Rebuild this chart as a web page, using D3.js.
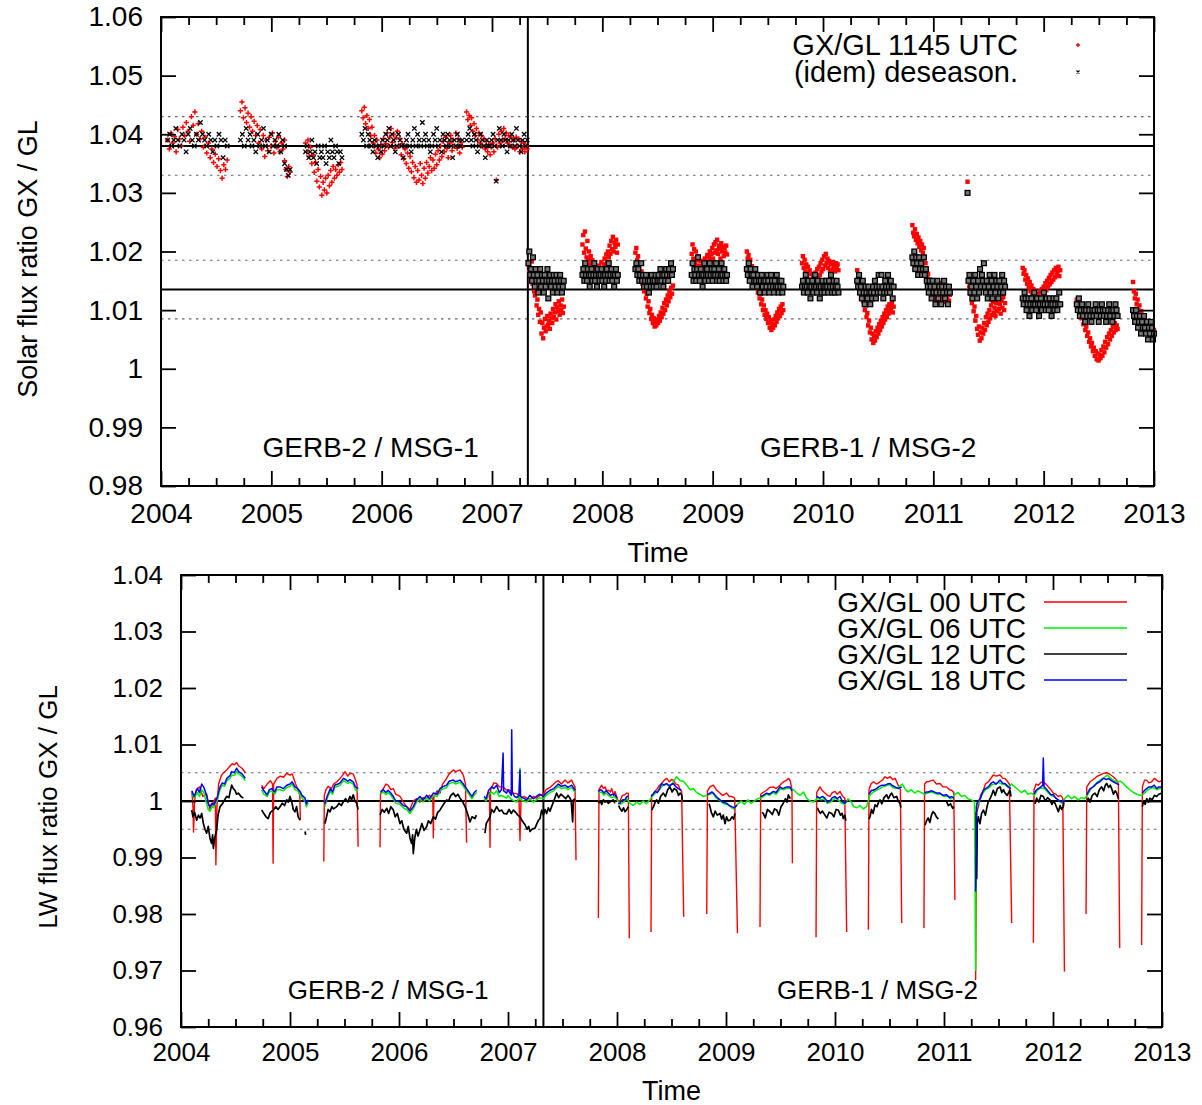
<!DOCTYPE html>
<html>
<head>
<meta charset="utf-8">
<script src="https://cdn.jsdelivr.net/npm/d3@7"></script>
<style>
  body { margin: 0; background: #fff; }
  svg { font-family: "Liberation Sans", Arial, Helvetica, sans-serif; }
</style>
</head>
<body>
<div id="chart"></div>
<script>
// ---- shared ----
const years = [2004, 2005, 2006, 2007, 2008, 2009, 2010, 2011, 2012, 2013];
const switchDate = 2007.325; // GERB-2/MSG-1 -> GERB-1/MSG-2

// ---- top panel: solar flux ratio ----
const solarTicks = [0.98, 0.99, 1, 1.01, 1.02, 1.03, 1.04, 1.05, 1.06];
const solarMeans = [1.038, 1.0135];
const solarBands = [1.043, 1.033, 1.0185, 1.0085];

// observation periods (start, end) in decimal years
const solarSpans = [
  [2004.06, 2004.60], [2004.72, 2005.12], [2005.12, 2005.17], [2005.31, 2005.64],
  [2005.82, 2006.73], [2006.77, 2007.32],
  [2007.33, 2007.65], [2007.82, 2008.14], [2008.30, 2008.64], [2008.81, 2009.13],
  [2009.31, 2009.64], [2009.81, 2010.14], [2010.31, 2010.64], [2010.81, 2011.15],
  [2011.31, 2011.65], [2011.81, 2012.15], [2012.30, 2012.67], [2012.81, 2013.0]
];

// GX/GL 1145 UTC
const solarRaw = [
  [1.0390,1.0375,1.0402,1.0385,1.0396,1.0370,1.0408,1.0392,1.0380,1.0412,1.0398,1.0420,1.0405,1.0388,1.0430,1.0415,1.0438,1.0400,1.0418,1.0392,1.0405,1.0378,1.0395,1.0368,1.0385,1.0360,1.0375,1.0352,1.0366,1.0345,1.0358,1.0338,1.0325,1.0348,1.0340,1.0356],
  [1.0440,1.0455,1.0428,1.0445,1.0420,1.0436,1.0412,1.0430,1.0405,1.0422,1.0398,1.0415,1.0385,1.0408,1.0375,1.0398,1.0362,1.0390,1.0372,1.0395,1.0380,1.0402,1.0368,1.0388,1.0378,1.0395,1.0370,1.0385,1.0375,1.0390],
  [1.0355,1.0340,1.0328,1.0345,1.0335],
  [1.0385,1.0370,1.0390,1.0362,1.0378,1.0350,1.0365,1.0335,1.0352,1.0320,1.0340,1.0310,1.0328,1.0296,1.0318,1.0305,1.0325,1.0300,1.0330,1.0312,1.0338,1.0318,1.0345,1.0325,1.0340,1.0330,1.0348,1.0335,1.0352,1.0340],
  [1.0440,1.0428,1.0446,1.0418,1.0432,1.0410,1.0425,1.0398,1.0412,1.0385,
   1.0398,1.0368,1.0390,1.0375,1.0360,1.0382,1.0366,1.0392,1.0372,1.0384,
   1.0402,1.0378,1.0395,1.0410,1.0386,1.0400,1.0376,1.0394,1.0405,1.0380,
   1.0392,1.0365,1.0384,1.0358,1.0375,1.0350,1.0368,1.0342,1.0362,1.0336,
   1.0352,1.0326,1.0345,1.0318,1.0338,1.0322,1.0350,1.0330,1.0316,1.0342,
   1.0325,1.0352,1.0334,1.0345,1.0360,1.0338,1.0356,1.0342,1.0366,1.0348,
   1.0372,1.0356,1.0380,1.0362,1.0388,1.0370,1.0395,1.0376,1.0360,1.0385,
   1.0398,1.0372,1.0390,1.0380,1.0402,1.0376,1.0392,1.0368,1.0386,1.0378],
  [1.0438,1.0425,1.0432,1.0415,1.0428,1.0405,1.0418,1.0398,1.0410,1.0390,
   1.0402,1.0385,1.0398,1.0380,1.0392,1.0375,1.0388,1.0370,1.0382,1.0365,
   1.0378,1.0385,1.0370,1.0392,1.0322,1.0378,1.0400,1.0385,1.0405,1.0390,
   1.0410,1.0392,1.0402,1.0385,1.0398,1.0380,1.0395,1.0378,1.0390,1.0375,
   1.0395,1.0380,1.0392,1.0370,1.0388,1.0375,1.0385,1.0370,1.0380,1.0375],
  [1.0178,1.0165,1.0172,1.0150,1.0183,1.0145,1.0158,1.0132,1.0125,1.0138,1.0108,1.0118,1.0092,1.0102,1.0080,1.0096,
   1.0060,1.0078,1.0052,1.0070,1.0085,1.0064,1.0072,1.0090,1.0075,1.0082,1.0068,1.0094,1.0086,1.0078,1.0102,1.0088,
   1.0096,1.0110,1.0084,1.0105,1.0098,1.0115,1.0092,1.0108,1.0100,1.0118,1.0095,1.0106],
  [1.0212,1.0228,1.0198,1.0234,1.0205,1.0190,1.0218,1.0186,1.0200,1.0178,1.0192,1.0172,1.0185,1.0165,1.0180,1.0158,
   1.0172,1.0162,1.0150,1.0168,1.0176,1.0158,1.0166,1.0182,1.0170,1.0160,1.0178,1.0188,1.0172,1.0195,1.0182,1.0200,
   1.0190,1.0210,1.0196,1.0218,1.0204,1.0225,1.0200,1.0215,1.0208,1.0220,1.0198,1.0212],
  [1.0198,1.0206,1.0185,1.0192,1.0170,1.0180,1.0158,1.0166,1.0145,1.0152,1.0132,1.0140,1.0120,1.0128,1.0106,1.0115,
   1.0095,1.0102,1.0085,1.0092,1.0078,1.0086,1.0072,1.0080,1.0074,1.0084,1.0078,1.0090,1.0082,1.0096,1.0088,1.0104,
   1.0094,1.0112,1.0100,1.0118,1.0108,1.0125,1.0115,1.0132,1.0122,1.0138,1.0128,1.0142],
  [1.0196,1.0212,1.0188,1.0204,1.0178,1.0200,1.0185,1.0170,1.0192,1.0176,1.0168,1.0184,1.0172,1.0162,1.0180,1.0174,
   1.0188,1.0170,1.0182,1.0194,1.0178,1.0190,1.0200,1.0184,1.0196,1.0206,1.0188,1.0212,1.0198,1.0216,1.0202,1.0220,
   1.0196,1.0210,1.0204,1.0188,1.0214,1.0200,1.0208,1.0192,1.0205,1.0198,1.0210,1.0195],
  [1.0200,1.0188,1.0194,1.0178,1.0186,1.0168,1.0175,1.0160,1.0168,1.0150,1.0158,1.0140,1.0148,1.0130,1.0138,1.0120,
   1.0128,1.0110,1.0118,1.0100,1.0108,1.0092,1.0100,1.0085,1.0094,1.0078,1.0088,1.0070,1.0082,1.0066,1.0076,1.0070,
   1.0084,1.0074,1.0090,1.0080,1.0096,1.0086,1.0102,1.0090,1.0106,1.0095,1.0110,1.0100],
  [1.0180,1.0192,1.0172,1.0186,1.0166,1.0178,1.0160,1.0174,1.0152,1.0168,1.0148,1.0162,1.0145,1.0158,1.0150,1.0142,
   1.0164,1.0152,1.0170,1.0156,1.0174,1.0160,1.0180,1.0166,1.0186,1.0170,1.0192,1.0176,1.0196,1.0180,1.0188,1.0172,
   1.0184,1.0168,1.0178,1.0164,1.0182,1.0170,1.0176,1.0166,1.0180,1.0172,1.0178,1.0168],
  [1.0168,1.0155,1.0160,1.0142,1.0150,1.0128,1.0136,1.0115,1.0122,1.0100,1.0108,1.0088,1.0095,1.0074,1.0082,1.0062,
   1.0070,1.0050,1.0060,1.0044,1.0056,1.0048,1.0064,1.0054,1.0070,1.0060,1.0076,1.0066,1.0082,1.0072,1.0088,1.0078,
   1.0094,1.0084,1.0100,1.0088,1.0106,1.0094,1.0110,1.0098,1.0104,1.0112,1.0096,1.0106],
  [1.0245,1.0232,1.0226,1.0238,1.0220,1.0230,1.0214,1.0224,1.0208,1.0218,1.0202,1.0212,1.0198,1.0206,1.0190,1.0180,
   1.0168,1.0156,1.0162,1.0146,1.0152,1.0136,1.0145,1.0128,1.0140,1.0122,1.0134,1.0116,1.0130,1.0112,1.0138,1.0120,
   1.0146,1.0124,1.0134,1.0114,1.0128,1.0140,1.0118,1.0132,1.0122,1.0136,1.0116,1.0126],
  [1.0319,1.0152,1.0140,1.0128,1.0135,1.0112,1.0120,1.0098,1.0106,1.0082,1.0090,1.0068,1.0058,1.0072,1.0048,1.0062,
   1.0052,1.0070,1.0060,1.0078,1.0066,1.0088,1.0074,1.0094,1.0080,1.0100,1.0086,1.0108,1.0092,1.0114,1.0096,1.0104,
   1.0090,1.0112,1.0098,1.0120,1.0102,1.0110,1.0094,1.0116,1.0104,1.0122,1.0100,1.0112],
  [1.0172,1.0162,1.0168,1.0152,1.0160,1.0145,1.0154,1.0138,1.0148,1.0132,1.0142,1.0126,1.0136,1.0120,1.0132,1.0118,
   1.0128,1.0115,1.0126,1.0120,1.0132,1.0122,1.0136,1.0126,1.0140,1.0130,1.0146,1.0134,1.0150,1.0140,1.0155,1.0144,
   1.0160,1.0148,1.0164,1.0152,1.0168,1.0156,1.0172,1.0160,1.0166,1.0174,1.0158,1.0168],
  [1.0118,1.0106,1.0112,1.0096,1.0102,1.0086,1.0092,1.0076,1.0082,1.0066,1.0072,1.0056,1.0062,1.0046,1.0052,1.0038,
   1.0044,1.0030,1.0036,1.0022,1.0030,1.0016,1.0026,1.0014,1.0024,1.0018,1.0032,1.0022,1.0038,1.0028,1.0046,1.0036,
   1.0054,1.0042,1.0060,1.0050,1.0066,1.0056,1.0072,1.0062,1.0078,1.0066,1.0074,1.0068],
  [1.0148,1.0132,1.0120,1.0128,1.0110,1.0118,1.0100,1.0108,1.0092,1.0098,1.0084,1.0090,1.0076,1.0084,1.0068,1.0078,1.0062,1.0072,1.0058,1.0068,1.0055,1.0064,1.0058,1.0066]
];

// (idem) deseasonalised
const solarDes = [
  [1.039,1.040,1.038,1.039,1.041,1.039,1.038,1.040,1.039,1.037,1.040,1.041,1.039,1.038,1.040,1.039,1.042,1.040,1.039,1.038,1.040,1.039,1.037,1.039,1.038,1.040,1.039,1.036,1.039,1.038],
  [1.039,1.040,1.038,1.041,1.039,1.040,1.038,1.039,1.037,1.040,1.038,1.039,1.041,1.038,1.039,1.037,1.040,1.038,1.039,1.038,1.040,1.037,1.039,1.038],
  [1.035,1.034,1.033,1.034],
  [1.037,1.038,1.036,1.037,1.039,1.036,1.037,1.035,1.038,1.036,1.037,1.036,1.038,1.035,1.037,1.036,1.039,1.037,1.036,1.038,1.037,1.035,1.037,1.036],
  [1.040,1.039,1.041,1.038,1.040,1.039,1.038,1.037,1.039,1.038,1.036,1.038,1.037,1.039,1.038,1.040,1.039,1.041,1.038,1.040,1.039,1.037,1.038,1.040,1.039,1.038,1.036,1.038,1.039,1.040,1.038,1.037,1.039,1.041,1.038,1.040,1.039,1.038,1.042,1.039,1.040,1.038,1.039,1.037,1.038,1.040,1.039,1.041,1.038,1.039,1.037,1.040,1.039,1.038,1.040,1.039,1.038,1.036,1.039,1.038,1.040,1.039,1.038,1.039],
  [1.039,1.040,1.041,1.039,1.038,1.040,1.039,1.037,1.038,1.040,1.039,1.038,1.036,1.039,1.038,1.038,1.039,1.040,1.038,1.032,1.039,1.041,1.039,1.038,1.040,1.039,1.037,1.039,1.038,1.040,1.039,1.038,1.041,1.039,1.038,1.037,1.039,1.040,1.038,1.039],
  [1.018,1.020,1.016,1.017,1.015,1.019,1.016,1.014,1.017,1.015,1.016,1.013,1.015,1.017,1.014,1.016,1.015,1.013,1.016,1.014,1.015,1.017,1.012,1.015,1.016,1.014,1.015,1.013,1.016,1.015,1.014,1.016,1.013,1.015,1.014,1.016,1.015,1.013,1.014,1.015],
  [1.016,1.017,1.015,1.018,1.016,1.015,1.017,1.016,1.014,1.016,1.017,1.015,1.016,1.018,1.015,1.016,1.014,1.017,1.016,1.015,1.016,1.017,1.015,1.016,1.014,1.016,1.015,1.017,1.016,1.018,1.015,1.016,1.017,1.015,1.016,1.014,1.016,1.017,1.015,1.016],
  [1.017,1.018,1.016,1.017,1.015,1.016,1.018,1.015,1.016,1.014,1.015,1.016,1.014,1.015,1.013,1.015,1.014,1.016,1.015,1.014,1.015,1.016,1.014,1.015,1.016,1.015,1.017,1.015,1.016,1.014,1.016,1.015,1.017,1.016,1.015,1.017,1.016,1.018,1.016,1.017],
  [1.016,1.018,1.015,1.017,1.016,1.015,1.017,1.019,1.016,1.015,1.017,1.016,1.014,1.016,1.018,1.015,1.016,1.017,1.016,1.015,1.018,1.016,1.017,1.015,1.016,1.017,1.016,1.018,1.015,1.016,1.017,1.015,1.016,1.018,1.016,1.015,1.017,1.016,1.015,1.016],
  [1.017,1.016,1.018,1.015,1.017,1.016,1.014,1.016,1.015,1.017,1.015,1.014,1.016,1.015,1.013,1.015,1.016,1.014,1.015,1.013,1.015,1.014,1.016,1.015,1.013,1.014,1.016,1.015,1.014,1.013,1.015,1.014,1.016,1.014,1.013,1.015,1.014,1.015,1.013,1.014],
  [1.014,1.015,1.013,1.014,1.016,1.014,1.013,1.015,1.014,1.012,1.014,1.015,1.013,1.014,1.016,1.014,1.013,1.015,1.014,1.012,1.014,1.013,1.015,1.014,1.013,1.014,1.015,1.014,1.013,1.015,1.014,1.016,1.013,1.014,1.015,1.013,1.014,1.015,1.014,1.013],
  [1.015,1.014,1.016,1.013,1.014,1.012,1.015,1.013,1.011,1.014,1.013,1.012,1.014,1.013,1.011,1.013,1.012,1.014,1.013,1.015,1.012,1.014,1.013,1.016,1.014,1.013,1.016,1.014,1.012,1.013,1.015,1.014,1.013,1.016,1.014,1.013,1.015,1.014,1.012,1.014],
  [1.019,1.018,1.020,1.017,1.019,1.018,1.016,1.019,1.017,1.018,1.016,1.017,1.019,1.016,1.017,1.015,1.014,1.013,1.015,1.014,1.012,1.015,1.013,1.014,1.011,1.013,1.015,1.012,1.014,1.013,1.011,1.014,1.013,1.015,1.012,1.014,1.013,1.011,1.014,1.013],
  [1.030,1.015,1.016,1.013,1.014,1.012,1.015,1.013,1.016,1.014,1.012,1.015,1.013,1.017,1.014,1.016,1.015,1.018,1.014,1.013,1.015,1.012,1.014,1.016,1.013,1.015,1.012,1.014,1.016,1.013,1.015,1.014,1.012,1.015,1.013,1.014,1.016,1.013,1.015,1.014],
  [1.012,1.011,1.013,1.012,1.010,1.011,1.012,1.009,1.011,1.012,1.010,1.011,1.013,1.011,1.010,1.012,1.011,1.009,1.011,1.012,1.010,1.011,1.013,1.011,1.010,1.012,1.011,1.010,1.012,1.011,1.009,1.011,1.012,1.010,1.011,1.012,1.010,1.011,1.013,1.011],
  [1.011,1.010,1.012,1.009,1.010,1.011,1.009,1.010,1.008,1.010,1.009,1.011,1.010,1.009,1.008,1.010,1.009,1.010,1.011,1.009,1.010,1.008,1.010,1.009,1.011,1.010,1.009,1.010,1.008,1.009,1.010,1.011,1.009,1.010,1.008,1.010,1.009,1.011,1.010,1.009],
  [1.010,1.009,1.008,1.010,1.009,1.007,1.008,1.009,1.006,1.008,1.007,1.009,1.007,1.006,1.008,1.005,1.007,1.006,1.008,1.007,1.005,1.006]
];

// ---- bottom panel: LW flux ratio ----
const lwTicks = [0.96, 0.97, 0.98, 0.99, 1, 1.01, 1.02, 1.03, 1.04];
const lwMeans = [1.0];
const lwBands = [1.005, 0.995];

// GX/GL 00 UTC
const lw00 = [
  [[2004.10,1.0017],[2004.11,0.9990],[2004.115,0.9945],[2004.125,1.0000],[2004.14,1.0020],[2004.17,1.0025],[2004.20,1.0008],[2004.235,1.0012],[2004.265,0.9985],[2004.29,0.9995],[2004.315,1.0005],[2004.32,0.9887],[2004.33,0.9990],[2004.345,1.0030],[2004.37,1.0045],[2004.39,1.0050],[2004.42,1.0055],[2004.45,1.0062],[2004.47,1.0066],[2004.49,1.0064],[2004.51,1.0068],[2004.53,1.0062],[2004.56,1.0058],[2004.59,1.0050]],
  [[2004.74,1.0028],[2004.76,1.0022],[2004.79,1.0030],[2004.82,1.0036],[2004.84,1.0030],[2004.845,0.9890],[2004.85,1.0030],[2004.88,1.0040],[2004.91,1.0044],[2004.94,1.0042],[2004.97,1.0049],[2005.0,1.0046],[2005.02,1.0048],[2005.05,1.0031],[2005.075,1.0019],[2005.09,1.0010],[2005.095,0.9966]],
  [[2005.31,0.9893],[2005.315,1.0010],[2005.33,1.0020],[2005.35,1.0026],[2005.38,1.0022],[2005.40,1.0030],[2005.43,1.0034],[2005.46,1.0040],[2005.48,1.0045],[2005.505,1.0052],[2005.53,1.0044],[2005.55,1.0049],[2005.58,1.0048],[2005.60,1.0038],[2005.615,1.0028],[2005.625,0.9919]],
  [[2005.826,0.9918],[2005.83,1.0013],[2005.856,1.0022],[2005.88,1.0030],[2005.90,1.0028],[2005.925,1.0020],[2005.948,1.0022],[2005.97,1.0012],[2006.01,1.0008],[2006.04,0.9998],[2006.07,0.9990],[2006.10,0.9985],[2006.13,1.0000],[2006.16,1.0004],[2006.19,0.9998],[2006.22,1.0006],[2006.25,1.0004],[2006.28,1.0010],[2006.31,1.0006],[2006.315,0.9935],[2006.32,1.0008],[2006.35,1.0018],[2006.376,1.0014],[2006.40,1.0030],[2006.437,1.0040],[2006.46,1.0048],[2006.498,1.0055],[2006.52,1.0052],[2006.56,1.0055],[2006.59,1.0046],[2006.61,1.0030],[2006.62,0.9926]],
  [[2006.79,1.0002],[2006.81,1.0010],[2006.83,1.0015],[2006.835,0.9918],[2006.84,1.0020],[2006.87,1.0032],[2006.896,1.0031],[2006.92,1.0025],[2006.957,1.0025],[2006.98,1.0020],[2007.018,1.0019],[2007.05,1.0014],[2007.08,1.0013],[2007.10,1.0010],[2007.11,0.9930],[2007.12,1.0006],[2007.15,1.0008],[2007.172,1.0005],[2007.20,1.0003],[2007.233,1.0008],[2007.26,1.0005],[2007.29,1.0010],[2007.324,1.0012],[2007.35,1.0020],[2007.385,1.0024],[2007.42,1.0030],[2007.44,1.0034],[2007.462,1.0036],[2007.49,1.0030],[2007.523,1.0037],[2007.55,1.0032],[2007.584,1.0037],[2007.60,1.0030],[2007.615,1.0025],[2007.624,0.9895]],
  [[2007.829,0.9793],[2007.835,1.0020],[2007.859,1.0028],[2007.875,1.0022],[2007.89,1.0025],[2007.905,1.0018],[2007.92,1.0019],[2007.94,1.0016],[2007.951,1.0022],[2007.97,1.0010],[2007.982,1.0017],[2007.99,1.0012],[2008.01,1.0000],[2008.027,1.0000],[2008.05,1.0010],[2008.073,1.0011],[2008.09,1.0014],[2008.104,1.0014],[2008.113,0.9757]],
  [[2008.312,0.9768],[2008.318,1.0010],[2008.33,1.0012],[2008.349,1.0017],[2008.37,1.0022],[2008.39,1.0028],[2008.41,1.0031],[2008.43,1.0036],[2008.456,1.0040],[2008.48,1.0034],[2008.50,1.0038],[2008.517,1.0037],[2008.54,1.0030],[2008.563,1.0028],[2008.58,1.0020],[2008.593,1.0017],[2008.612,0.9795]],
  [[2008.823,0.9800],[2008.83,1.0018],[2008.853,1.0025],[2008.884,1.0028],[2008.91,1.0020],[2008.945,1.0014],[2008.97,1.0010],[2009.006,1.0014],[2009.03,1.0008],[2009.052,1.0008],[2009.08,1.0005],[2009.105,0.9766]],
  [[2009.312,0.9777],[2009.318,1.0012],[2009.34,1.0015],[2009.373,1.0019],[2009.40,1.0024],[2009.434,1.0025],[2009.46,1.0022],[2009.495,1.0028],[2009.52,1.0033],[2009.557,1.0037],[2009.575,1.0040],[2009.59,1.0035],[2009.605,1.0020],[2009.609,0.9890]],
  [[2009.826,0.9759],[2009.832,1.0015],[2009.862,1.0025],[2009.885,1.0018],[2009.908,1.0014],[2009.93,1.0010],[2009.954,1.0008],[2009.975,1.0015],[2010.0,1.0017],[2010.02,1.0012],[2010.046,1.0017],[2010.07,1.0008],[2010.09,1.0005],[2010.107,0.9768]],
  [[2010.306,0.9772],[2010.312,1.0020],[2010.33,1.0030],[2010.352,1.0034],[2010.38,1.0030],[2010.413,1.0034],[2010.44,1.0038],[2010.459,1.0043],[2010.48,1.0040],[2010.505,1.0043],[2010.53,1.0038],[2010.551,1.0040],[2010.58,1.0028],[2010.60,1.0020],[2010.612,0.9784]],
  [[2010.816,0.9775],[2010.822,1.0030],[2010.84,1.0034],[2010.856,1.0034],[2010.88,1.0036],[2010.902,1.0037],[2010.93,1.0030],[2010.963,1.0031],[2010.99,1.0025],[2011.024,1.0025],[2011.05,1.0020],[2011.07,1.0019],[2011.09,1.0015],[2011.10,0.9825]],
  [[2011.29,0.9683],[2011.30,0.9980],[2011.315,0.9990],[2011.335,1.0010],[2011.361,1.0019],[2011.38,1.0030],[2011.407,1.0034],[2011.43,1.0040],[2011.452,1.0046],[2011.48,1.0044],[2011.514,1.0046],[2011.54,1.0040],[2011.56,1.0040],[2011.60,1.0030],[2011.621,0.9784]],
  [[2011.82,0.9749],[2011.826,1.0020],[2011.845,1.0030],[2011.865,1.0028],[2011.89,1.0033],[2011.911,1.0034],[2011.935,1.0030],[2011.957,1.0025],[2011.98,1.0020],[2012.003,1.0014],[2012.025,1.0012],[2012.049,1.0008],[2012.07,1.0010],[2012.09,1.0005],[2012.105,0.9698]],
  [[2012.303,0.9800],[2012.31,1.0025],[2012.34,1.0034],[2012.37,1.0038],[2012.40,1.0043],[2012.43,1.0046],[2012.462,1.0049],[2012.49,1.0050],[2012.508,1.0049],[2012.53,1.0046],[2012.553,1.0043],[2012.57,1.0040],[2012.584,1.0037],[2012.60,1.0030],[2012.612,0.9740]],
  [[2012.813,0.9745],[2012.82,1.0025],[2012.84,1.0037],[2012.859,1.0037],[2012.88,1.0032],[2012.905,1.0034],[2012.93,1.0040],[2012.951,1.0037],[2012.97,1.0034],[2013.0,1.0036]]
];

// GX/GL 06 UTC
const lw06 = [
  [[2004.10,1.0012],[2004.12,1.0005],[2004.15,1.0015],[2004.17,1.0008],[2004.19,1.0020],[2004.21,1.0015],[2004.235,0.9995],[2004.25,0.9985],[2004.266,0.9982],[2004.285,0.9990],[2004.30,0.9988],[2004.33,1.0000],[2004.358,1.0020],[2004.38,1.0028],[2004.40,1.0026],[2004.42,1.0036],[2004.45,1.0040],[2004.465,1.0046],[2004.49,1.0045],[2004.51,1.0052],[2004.53,1.0048],[2004.56,1.0044],[2004.59,1.0036]],
  [[2004.74,1.0020],[2004.76,1.0012],[2004.79,1.0008],[2004.81,1.0016],[2004.832,1.0018],[2004.86,1.0012],[2004.88,1.0020],[2004.908,1.0020],[2004.94,1.0018],[2004.97,1.0024],[2005.0,1.0026],[2005.02,1.0030],[2005.046,1.0020],[2005.07,1.0018],[2005.092,1.0012],[2005.11,1.0005],[2005.138,1.0000],[2005.15,0.9990],[2005.168,0.9997]],
  [[2005.32,0.9990],[2005.34,1.0004],[2005.37,1.0018],[2005.39,1.0012],[2005.41,1.0024],[2005.44,1.0026],[2005.46,1.0028],[2005.49,1.0036],[2005.51,1.0034],[2005.53,1.0031],[2005.55,1.0034],[2005.58,1.0030],[2005.60,1.0020],[2005.627,1.0018]],
  [[2005.83,1.0012],[2005.856,1.0016],[2005.88,1.0011],[2005.90,1.0015],[2005.925,1.0010],[2005.948,1.0004],[2005.97,0.9996],[2006.009,0.9994],[2006.04,0.9988],[2006.07,0.9985],[2006.10,0.9978],[2006.131,0.9986],[2006.16,0.9998],[2006.193,1.0004],[2006.22,0.9998],[2006.254,1.0006],[2006.28,1.0000],[2006.315,1.0010],[2006.35,1.0008],[2006.376,1.0018],[2006.40,1.0021],[2006.437,1.0024],[2006.46,1.0031],[2006.498,1.0033],[2006.52,1.0030],[2006.56,1.0033],[2006.59,1.0026],[2006.62,1.0018],[2006.651,1.0009],[2006.67,1.0004],[2006.69,1.0011],[2006.713,1.0015]],
  [[2006.78,1.0004],[2006.80,1.0000],[2006.82,1.0010],[2006.85,1.0016],[2006.87,1.0012],[2006.896,1.0018],[2006.92,1.0008],[2006.94,1.0010],[2006.96,1.0008],[2006.988,1.0005],[2007.00,1.0010],[2007.03,1.0003],[2007.06,1.0000],[2007.08,0.9998],[2007.10,1.0005],[2007.11,1.0058],[2007.115,1.0003],[2007.14,1.0000],[2007.172,0.9998],[2007.20,1.0004],[2007.233,0.9998],[2007.26,1.0002],[2007.29,1.0006],[2007.324,1.0004],[2007.35,1.0010],[2007.385,1.0015],[2007.42,1.0018],[2007.462,1.0026],[2007.49,1.0022],[2007.523,1.0024],[2007.55,1.0020],[2007.584,1.0024],[2007.615,1.0015]],
  [[2007.83,1.0014],[2007.86,1.0016],[2007.88,1.0010],[2007.90,1.0014],[2007.92,1.0010],[2007.95,1.0006],[2007.98,1.0008],[2008.0,1.0002],[2008.03,0.9994],[2008.06,0.9998],[2008.09,1.0004],[2008.12,0.9996],[2008.15,0.9992],[2008.18,0.9998],[2008.21,0.9994],[2008.24,1.0000],[2008.27,0.9995],[2008.30,1.0002],
   [2008.33,1.0010],[2008.36,1.0015],[2008.39,1.0020],[2008.42,1.0028],[2008.45,1.0030],[2008.48,1.0026],[2008.51,1.0032],[2008.547,1.0043],[2008.58,1.0036],[2008.61,1.0035],[2008.64,1.0028],[2008.67,1.0020],[2008.70,1.0022],[2008.73,1.0015],[2008.76,1.0012],[2008.79,1.0008],[2008.82,1.0010],
   [2008.85,1.0012],[2008.88,1.0014],[2008.91,1.0005],[2008.95,1.0000],[2008.98,0.9995],[2009.01,0.9994],[2009.04,0.9990],[2009.07,0.9986],[2009.11,0.9995],[2009.14,1.0000],[2009.17,0.9994],[2009.20,1.0002],[2009.23,0.9996],[2009.26,1.0000],[2009.29,1.0004],
   [2009.33,1.0006],[2009.37,1.0012],[2009.40,1.0010],[2009.43,1.0015],[2009.46,1.0012],[2009.50,1.0022],[2009.53,1.0020],[2009.56,1.0023],[2009.59,1.0022],[2009.62,1.0020],[2009.65,1.0014],[2009.68,1.0010],[2009.71,1.0016],[2009.74,1.0005],[2009.77,1.0000],[2009.80,0.9998],
   [2009.84,1.0005],[2009.87,1.0002],[2009.90,1.0004],[2009.93,0.9996],[2009.96,0.9998],[2010.0,1.0005],[2010.03,1.0002],[2010.06,0.9996],[2010.09,0.9994],[2010.12,1.0004],[2010.15,0.9998],[2010.17,0.9990],[2010.20,0.9988],[2010.23,0.9992],[2010.26,0.9986],[2010.29,0.9990],
   [2010.32,1.0010],[2010.35,1.0016],[2010.38,1.0019],[2010.41,1.0022],[2010.44,1.0025],[2010.47,1.0027],[2010.50,1.0029],[2010.53,1.0024],[2010.56,1.0022],[2010.59,1.0026],[2010.62,1.0030],[2010.64,1.0022],[2010.67,1.0016],[2010.70,1.0020],[2010.73,1.0014],[2010.76,1.0018],[2010.79,1.0015],[2010.82,1.0012],
   [2010.85,1.0014],[2010.88,1.0016],[2010.91,1.0014],[2010.94,1.0012],[2010.97,1.0012],[2011.0,1.0008],[2011.03,1.0009],[2011.06,1.0004],[2011.08,1.0006],[2011.10,1.0012],[2011.13,1.0015],[2011.16,1.0008],[2011.19,1.0010],[2011.22,1.0004],[2011.25,1.0002],[2011.28,0.9998],[2011.29,0.9700],[2011.295,0.9990],
   [2011.32,0.9998],[2011.35,1.0012],[2011.38,1.0020],[2011.41,1.0023],[2011.44,1.0029],[2011.47,1.0030],[2011.50,1.0033],[2011.53,1.0030],[2011.56,1.0029],[2011.59,1.0024],[2011.62,1.0030],[2011.65,1.0025],[2011.68,1.0020],[2011.71,1.0015],[2011.74,1.0019],[2011.77,1.0012],[2011.80,1.0014],
   [2011.83,1.0010],[2011.86,1.0020],[2011.89,1.0023],[2011.92,1.0022],[2011.95,1.0016],[2011.98,1.0010],[2012.01,1.0008],[2012.04,1.0003],[2012.07,0.9998],[2012.09,0.9996],[2012.11,1.0005],[2012.14,1.0010],[2012.17,1.0004],[2012.20,1.0008],[2012.23,1.0002],[2012.26,1.0006],[2012.29,1.0004],
   [2012.32,1.0012],[2012.35,1.0022],[2012.38,1.0028],[2012.41,1.0034],[2012.44,1.0038],[2012.47,1.0042],[2012.50,1.0046],[2012.53,1.0040],[2012.56,1.0036],[2012.59,1.0034],[2012.62,1.0035],[2012.65,1.0030],[2012.68,1.0024],[2012.71,1.0019],[2012.74,1.0015],[2012.77,1.0012],[2012.80,1.0010],
   [2012.83,1.0012],[2012.86,1.0018],[2012.89,1.0022],[2012.92,1.0024],[2012.95,1.0020],[2012.98,1.0022],[2013.0,1.0022]]
];

// GX/GL 12 UTC
const lw12 = [
  [[2004.098,0.9984],[2004.11,0.9972],[2004.125,0.9980],[2004.144,0.9966],[2004.16,0.9975],[2004.175,0.9970],[2004.19,0.9978],[2004.205,0.9960],[2004.22,0.9950],[2004.235,0.9943],[2004.25,0.9955],[2004.265,0.9935],[2004.281,0.9925],[2004.29,0.9940],[2004.297,0.9916],[2004.31,0.9935],[2004.327,0.9949],[2004.34,0.9975],[2004.358,0.9990],[2004.38,0.9995],[2004.40,1.0002],[2004.419,1.0008],[2004.44,1.0006],[2004.455,1.0020],[2004.465,1.0028],[2004.48,1.0022],[2004.495,1.0019],[2004.51,1.0012],[2004.526,1.0014],[2004.55,1.0008],[2004.572,1.0005]],
  [[2004.74,0.9984],[2004.76,0.9978],[2004.78,0.9972],[2004.80,0.9969],[2004.82,0.9980],[2004.847,0.9984],[2004.87,0.9990],[2004.89,0.9985],[2004.908,0.9990],[2004.93,0.9996],[2004.95,0.9992],[2004.97,1.0002],[2004.985,0.9998],[2005.0,1.0008],[2005.02,0.9995],[2005.03,0.9985],[2005.046,0.9981],[2005.06,0.9990],[2005.075,0.9972],[2005.092,0.9966]],
  [[2005.138,0.9946],[2005.144,0.9940]],
  [[2005.321,0.9960],[2005.335,0.9972],[2005.35,0.9985],[2005.367,0.9981],[2005.385,0.9990],[2005.40,0.9986],[2005.428,0.9990],[2005.45,0.9996],[2005.47,0.9992],[2005.49,0.9999],[2005.51,1.0004],[2005.53,0.9998],[2005.55,1.0008],[2005.565,1.0002],[2005.58,1.0011],[2005.595,1.0000],[2005.612,0.9996],[2005.625,0.9985]],
  [[2005.826,0.9975],[2005.845,0.9985],[2005.865,0.9980],[2005.887,0.9987],[2005.905,0.9978],[2005.925,0.9990],[2005.948,0.9984],[2005.965,0.9972],[2005.985,0.9978],[2006.009,0.9960],[2006.025,0.9965],[2006.045,0.9950],[2006.07,0.9943],[2006.085,0.9955],[2006.10,0.9935],[2006.116,0.9925],[2006.125,0.9940],[2006.131,0.9907],[2006.145,0.9935],[2006.16,0.9950],[2006.175,0.9938],[2006.193,0.9949],[2006.21,0.9960],[2006.23,0.9948],[2006.254,0.9955],[2006.27,0.9965],[2006.29,0.9960],[2006.315,0.9972],[2006.335,0.9968],[2006.355,0.9980],[2006.376,0.9984],[2006.395,0.9990],[2006.415,0.9996],[2006.437,1.0002],[2006.455,1.0000],[2006.475,1.0010],[2006.498,1.0014],[2006.52,1.0008],[2006.54,1.0012],[2006.56,1.0005],[2006.58,1.0000],[2006.606,0.9990],[2006.625,0.9980],[2006.651,0.9963],[2006.67,0.9972],[2006.697,0.9969],[2006.71,0.9975]],
  [[2006.789,0.9943],[2006.80,0.9960],[2006.815,0.9965],[2006.835,0.9972],[2006.85,0.9985],[2006.87,0.9980],[2006.896,0.9990],[2006.92,0.9982],[2006.942,0.9984],[2006.96,0.9978],[2006.988,0.9977],[2007.01,0.9985],[2007.03,0.9978],[2007.05,0.9984],[2007.07,0.9980],[2007.09,0.9975],[2007.11,0.9972],[2007.13,0.9965],[2007.156,0.9958],[2007.175,0.9950],[2007.19,0.9955],[2007.202,0.9946],[2007.22,0.9950],[2007.248,0.9952],[2007.265,0.9960],[2007.28,0.9966],[2007.294,0.9969],[2007.309,0.9984],[2007.325,0.9975],[2007.34,0.9985],[2007.355,0.9978],[2007.37,0.9988],[2007.385,0.9982],[2007.40,0.9990],[2007.42,1.0000],[2007.446,1.0014],[2007.465,1.0006],[2007.485,1.0012],[2007.508,1.0008],[2007.53,1.0004],[2007.55,1.0010],[2007.569,1.0005],[2007.58,1.0000],[2007.593,0.9963],[2007.60,1.0002],[2007.615,1.0004]],
  [[2007.829,0.9996],[2007.845,1.0000],[2007.86,0.9994],[2007.875,1.0002],[2007.89,0.9998],[2007.905,1.0000],[2007.92,0.9996],[2007.94,0.9999],[2007.966,1.0002],[2007.98,0.9996]],
  [[2008.015,0.9992],[2008.027,0.9987],[2008.045,0.9982],[2008.06,0.9988],[2008.073,0.9981],[2008.09,0.9985],[2008.104,0.9990]],
  [[2008.318,0.9984],[2008.335,0.9990],[2008.35,0.9998],[2008.364,1.0002],[2008.38,0.9996],[2008.40,1.0008],[2008.425,1.0014],[2008.445,1.0008],[2008.465,1.0020],[2008.486,1.0025],[2008.505,1.0016],[2008.525,1.0022],[2008.547,1.0019],[2008.565,1.0010],[2008.58,1.0014],[2008.593,1.0011],[2008.60,1.0002]],
  [[2008.845,0.9995],[2008.853,0.9990],[2008.865,0.9980],[2008.884,0.9972],[2008.90,0.9982],[2008.92,0.9975],[2008.945,0.9978],[2008.96,0.9968],[2008.975,0.9975],[2008.991,0.9960],[2009.005,0.9972],[2009.02,0.9965],[2009.037,0.9966],[2009.055,0.9972],[2009.07,0.9968],[2009.082,0.9978]],
  [[2009.33,0.9980],[2009.342,0.9978],[2009.36,0.9970],[2009.38,0.9985],[2009.404,0.9981],[2009.425,0.9976],[2009.445,0.9986],[2009.465,0.9984],[2009.485,0.9975],[2009.505,0.9990],[2009.526,0.9996],[2009.545,1.0004],[2009.56,0.9998],[2009.572,1.0011],[2009.59,1.0004]],
  [[2009.84,0.9988],[2009.847,0.9984],[2009.865,0.9978],[2009.885,0.9982],[2009.908,0.9975],[2009.925,0.9970],[2009.945,0.9980],[2009.97,0.9978],[2009.99,0.9972],[2010.01,0.9985],[2010.03,0.9984],[2010.05,0.9975],[2010.065,0.9978],[2010.076,0.9969],[2010.09,0.9975],[2010.10,0.9965]],
  [[2010.31,0.9968],[2010.321,0.9972],[2010.335,0.9985],[2010.35,0.9978],[2010.367,0.9993],[2010.385,0.9990],[2010.40,0.9998],[2010.413,1.0002],[2010.43,0.9995],[2010.45,1.0006],[2010.474,1.0011],[2010.49,1.0004],[2010.505,1.0010],[2010.52,1.0014],[2010.54,1.0006],[2010.566,1.0008],[2010.58,1.0000],[2010.596,0.9996],[2010.605,0.9988]],
  [[2010.826,0.9957],[2010.84,0.9965],[2010.855,0.9970],[2010.87,0.9962],[2010.885,0.9975],[2010.90,0.9981],[2010.915,0.9978],[2010.93,0.9972],[2010.948,0.9968]],
  [[2011.02,1.0000],[2011.04,0.9992],[2011.06,0.9995],[2011.08,0.9987],[2011.09,0.9990]],
  [[2011.295,0.9980],[2011.30,0.9863],[2011.305,0.9960],[2011.315,0.9972],[2011.33,0.9960],[2011.345,0.9978],[2011.361,0.9984],[2011.38,0.9975],[2011.395,0.9990],[2011.407,0.9999],[2011.425,1.0005],[2011.44,1.0012],[2011.452,1.0019],[2011.47,1.0010],[2011.49,1.0022],[2011.514,1.0025],[2011.53,1.0015],[2011.545,1.0020],[2011.56,1.0014],[2011.58,1.0010],[2011.605,1.0019],[2011.615,1.0008]],
  [[2011.835,0.9995],[2011.85,1.0005],[2011.87,0.9998],[2011.89,1.0010],[2011.911,1.0008],[2011.93,1.0000],[2011.95,1.0006],[2011.972,1.0002],[2011.99,0.9994],[2012.005,1.0000],[2012.018,0.9996],[2012.035,0.9988],[2012.049,0.9981],[2012.065,0.9992],[2012.08,0.9985],[2012.095,0.9990],[2012.10,0.9998]],
  [[2012.31,0.9998],[2012.324,1.0005],[2012.34,0.9998],[2012.36,1.0010],[2012.385,1.0014],[2012.405,1.0008],[2012.425,1.0020],[2012.446,1.0025],[2012.465,1.0018],[2012.48,1.0028],[2012.492,1.0031],[2012.51,1.0024],[2012.525,1.0028],[2012.538,1.0022],[2012.555,1.0012],[2012.57,1.0018],[2012.584,1.0014],[2012.60,1.0004]],
  [[2012.82,0.9990],[2012.829,0.9999],[2012.845,0.9994],[2012.86,1.0004],[2012.875,0.9998],[2012.89,1.0005],[2012.91,1.0002],[2012.93,1.0010],[2012.951,1.0008],[2012.97,1.0012],[2013.0,1.0014]]
];

// GX/GL 18 UTC
const lw18 = [
  [[2004.10,1.0018],[2004.12,1.0008],[2004.15,1.0022],[2004.17,1.0015],[2004.19,1.0030],[2004.21,1.0024],[2004.235,1.0010],[2004.25,0.9995],[2004.266,0.9990],[2004.285,0.9996],[2004.30,0.9993],[2004.33,1.0005],[2004.358,1.0025],[2004.38,1.0032],[2004.40,1.0030],[2004.42,1.0040],[2004.45,1.0045],[2004.465,1.0052],[2004.49,1.0050],[2004.51,1.0058],[2004.53,1.0052],[2004.56,1.0048],[2004.59,1.0040]],
  [[2004.74,1.0025],[2004.76,1.0018],[2004.79,1.0011],[2004.81,1.0020],[2004.832,1.0022],[2004.86,1.0016],[2004.88,1.0025],[2004.908,1.0025],[2004.94,1.0022],[2004.97,1.0028],[2005.0,1.0030],[2005.02,1.0034],[2005.046,1.0025],[2005.07,1.0022],[2005.092,1.0017],[2005.11,1.0010],[2005.138,1.0005],[2005.15,0.9995],[2005.168,1.0002]],
  [[2005.32,0.9995],[2005.34,1.0008],[2005.37,1.0022],[2005.39,1.0016],[2005.41,1.0028],[2005.44,1.0030],[2005.46,1.0032],[2005.49,1.0040],[2005.51,1.0038],[2005.53,1.0035],[2005.55,1.0038],[2005.58,1.0034],[2005.60,1.0025],[2005.627,1.0022]],
  [[2005.83,1.0016],[2005.856,1.0020],[2005.88,1.0015],[2005.90,1.0019],[2005.925,1.0014],[2005.948,1.0008],[2005.97,1.0000],[2006.009,0.9998],[2006.04,0.9992],[2006.07,0.9990],[2006.10,0.9982],[2006.131,0.9990],[2006.16,1.0002],[2006.193,1.0008],[2006.22,1.0002],[2006.254,1.0010],[2006.28,1.0004],[2006.315,1.0014],[2006.35,1.0012],[2006.376,1.0022],[2006.40,1.0025],[2006.437,1.0028],[2006.46,1.0035],[2006.498,1.0037],[2006.52,1.0034],[2006.56,1.0037],[2006.59,1.0030],[2006.62,1.0022],[2006.651,1.0013],[2006.67,1.0008],[2006.69,1.0015],[2006.713,1.0019]],
  [[2006.78,1.0008],[2006.80,1.0004],[2006.82,1.0018],[2006.85,1.0025],[2006.87,1.0022],[2006.896,1.0028],[2006.92,1.0015],[2006.94,1.0020],[2006.955,1.0085],[2006.96,1.0018],[2006.988,1.0014],[2007.00,1.0020],[2007.03,1.0010],[2007.034,1.0126],[2007.04,1.0015],[2007.06,1.0008],[2007.08,1.0006],[2007.10,1.0010],[2007.11,1.0055],[2007.115,1.0008],[2007.14,1.0005],[2007.172,1.0002],[2007.20,1.0010],[2007.233,1.0004],[2007.26,1.0008],[2007.29,1.0012],[2007.324,1.0008],[2007.35,1.0014],[2007.385,1.0019],[2007.42,1.0022],[2007.462,1.0030],[2007.49,1.0026],[2007.523,1.0028],[2007.55,1.0024],[2007.584,1.0028],[2007.615,1.0019]],
  [[2007.829,1.0017],[2007.845,1.0020],[2007.859,1.0019],[2007.88,1.0014],[2007.90,1.0018],[2007.92,1.0014],[2007.94,1.0010],[2007.96,1.0012],[2007.982,1.0011],[2008.0,1.0005]],
  [[2008.01,0.9995],[2008.027,0.9996],[2008.05,1.0002],[2008.073,1.0002],[2008.09,1.0008],[2008.104,1.0008]],
  [[2008.312,1.0008],[2008.33,1.0012],[2008.349,1.0017],[2008.37,1.0015],[2008.39,1.0022],[2008.41,1.0031],[2008.43,1.0028],[2008.456,1.0031],[2008.48,1.0027],[2008.517,1.0031],[2008.54,1.0025],[2008.563,1.0022],[2008.59,1.0019]],
  [[2008.83,1.0011],[2008.853,1.0014],[2008.87,1.0016],[2008.884,1.0014],[2008.91,1.0008],[2008.945,1.0002],[2008.97,0.9998],[2009.006,0.9996],[2009.03,0.9992],[2009.052,0.9990],[2009.08,0.9988],[2009.10,0.9993]],
  [[2009.32,1.0008],[2009.34,1.0010],[2009.373,1.0014],[2009.40,1.0012],[2009.434,1.0017],[2009.46,1.0015],[2009.495,1.0025],[2009.52,1.0022],[2009.557,1.0025],[2009.587,1.0025],[2009.605,1.0018]],
  [[2009.832,1.0008],[2009.862,1.0005],[2009.885,1.0008],[2009.908,1.0005],[2009.93,0.9998],[2009.954,1.0000],[2009.975,1.0006],[2010.0,1.0008],[2010.02,1.0004],[2010.046,1.0008],[2010.07,0.9998],[2010.09,0.9996],[2010.105,1.0000]],
  [[2010.312,1.0012],[2010.335,1.0019],[2010.352,1.0019],[2010.38,1.0022],[2010.40,1.0025],[2010.43,1.0028],[2010.459,1.0028],[2010.48,1.0030],[2010.505,1.0031],[2010.53,1.0027],[2010.551,1.0025],[2010.58,1.0022],[2010.612,1.0025]],
  [[2010.822,1.0014],[2010.84,1.0016],[2010.856,1.0016],[2010.88,1.0018],[2010.902,1.0017],[2010.93,1.0014],[2010.963,1.0014],[2010.99,1.0010],[2011.024,1.0011],[2011.05,1.0006],[2011.07,1.0008],[2011.09,1.0005]],
  [[2011.29,0.9840],[2011.30,0.9995],[2011.315,1.0000],[2011.335,1.0005],[2011.361,1.0019],[2011.38,1.0022],[2011.407,1.0025],[2011.43,1.0031],[2011.452,1.0034],[2011.48,1.0030],[2011.514,1.0037],[2011.54,1.0031],[2011.56,1.0031],[2011.59,1.0025],[2011.615,1.0022]],
  [[2011.826,1.0012],[2011.845,1.0019],[2011.865,1.0022],[2011.89,1.0025],[2011.905,1.0028],[2011.911,1.0076],[2011.918,1.0025],[2011.935,1.0022],[2011.957,1.0017],[2011.98,1.0011],[2012.003,1.0011],[2012.025,1.0005],[2012.049,1.0002],[2012.07,0.9999],[2012.09,0.9998],[2012.105,1.0002]],
  [[2012.31,1.0011],[2012.34,1.0022],[2012.37,1.0025],[2012.40,1.0031],[2012.43,1.0034],[2012.462,1.0040],[2012.49,1.0038],[2012.508,1.0040],[2012.53,1.0037],[2012.553,1.0034],[2012.584,1.0031],[2012.605,1.0028]],
  [[2012.82,1.0014],[2012.84,1.0019],[2012.859,1.0022],[2012.88,1.0025],[2012.905,1.0025],[2012.93,1.0028],[2012.951,1.0022],[2012.97,1.0025],[2013.0,1.0025]]
];

// ---- drawing ----
const FONT = 28;
const svg = d3.select('#chart').append('svg')
  .attr('width', 1202)
  .attr('height', 1105);

const boxTop = {left: 161, right: 1154, top: 17, bottom: 486};
const boxBot = {left: 181, right: 1162, top: 575, bottom: 1027};

const x1 = d3.scaleLinear().domain([2004, 2013]).range([boxTop.left, boxTop.right]);
const y1 = d3.scaleLinear().domain([0.98, 1.06]).range([boxTop.bottom, boxTop.top]);
const x2 = d3.scaleLinear().domain([2004, 2013]).range([boxBot.left, boxBot.right]);
const y2 = d3.scaleLinear().domain([0.96, 1.04]).range([boxBot.bottom, boxBot.top]);

const quarters = d3.merge(years.slice(0, -1).map(y => [y + 0.25, y + 0.5, y + 0.75]));
const fmtY = d => d3.format('.2f')(d).replace(/\.00$/, '');

function drawFrame(box, x, y, yTicks, fs, padX, padY) {
  const g = svg.append('g');
  const styleAxis = sel => {
    sel.select('.domain').remove();
    sel.selectAll('.tick line').attr('stroke', '#000').attr('stroke-width', 1.8);
    sel.selectAll('text').style('font-size', fs + 'px').attr('fill', '#000');
  };
  g.append('g').attr('transform', 'translate(0,' + box.bottom + ')')
    .call(d3.axisBottom(x).tickValues(years).tickSize(-15).tickPadding(padX).tickFormat(d3.format('d')))
    .call(styleAxis);
  g.append('g').attr('transform', 'translate(0,' + box.bottom + ')')
    .call(d3.axisBottom(x).tickValues(quarters).tickSize(-8).tickFormat(''))
    .call(styleAxis);
  g.append('g').attr('transform', 'translate(0,' + box.top + ')')
    .call(d3.axisTop(x).tickValues(years).tickSize(-15).tickFormat(''))
    .call(styleAxis);
  g.append('g').attr('transform', 'translate(0,' + box.top + ')')
    .call(d3.axisTop(x).tickValues(quarters).tickSize(-8).tickFormat(''))
    .call(styleAxis);
  g.append('g').attr('transform', 'translate(' + box.left + ',0)')
    .call(d3.axisLeft(y).tickValues(yTicks).tickSize(-15).tickPadding(padY).tickFormat(fmtY))
    .call(styleAxis);
  g.append('g').attr('transform', 'translate(' + box.right + ',0)')
    .call(d3.axisRight(y).tickValues(yTicks).tickSize(-15).tickFormat(''))
    .call(styleAxis);
  g.append('rect')
    .attr('x', box.left).attr('y', box.top)
    .attr('width', box.right - box.left).attr('height', box.bottom - box.top)
    .attr('fill', 'none').attr('stroke', '#000').attr('stroke-width', 2);
}

function drawRefs(box, x, y, means, bands) {
  const g = svg.append('g');
  g.selectAll('.band').data(bands).enter().append('line')
    .attr('x1', box.left).attr('x2', box.right)
    .attr('y1', d => y(d)).attr('y2', d => y(d))
    .attr('stroke', '#666').attr('stroke-width', 1.1).attr('stroke-dasharray', '2.5,4.5');
  g.selectAll('.mean').data(means).enter().append('line')
    .attr('x1', box.left).attr('x2', box.right)
    .attr('y1', d => y(d)).attr('y2', d => y(d))
    .attr('stroke', '#000').attr('stroke-width', 2);
  g.append('line')
    .attr('x1', x(switchDate)).attr('x2', x(switchDate))
    .attr('y1', box.top).attr('y2', box.bottom)
    .attr('stroke', '#000').attr('stroke-width', 2);
}

// ---------- top panel ----------
drawRefs(boxTop, x1, y1, solarMeans, solarBands);

const solarPts = [];
solarSpans.forEach((span, i) => {
  const era = span[0] < switchDate ? 2 : 1;
  const addSeries = (vals, kind) => {
    const n = vals.length;
    vals.forEach((v, j) => {
      const t = n > 1 ? span[0] + j * (span[1] - span[0]) / (n - 1) : span[0];
      solarPts.push({t: t, v: v, kind: kind, era: era});
    });
  };
  addSeries(solarRaw[i], 'raw');
  addSeries(solarDes[i], 'des');
});

const gPts = svg.append('g');
// raw ratio: red + (GERB-2) / red squares (GERB-1)
gPts.selectAll('.rawPlus').data(solarPts.filter(d => d.kind === 'raw' && d.era === 2)).enter()
  .append('path')
  .attr('d', d => `M${x1(d.t) - 2.6},${y1(d.v)}h5.2M${x1(d.t)},${y1(d.v) - 2.6}v5.2`)
  .attr('stroke', '#ff0000').attr('stroke-width', 1.5);
gPts.selectAll('.rawSq').data(solarPts.filter(d => d.kind === 'raw' && d.era === 1)).enter()
  .append('rect')
  .attr('x', d => x1(d.t) - 2.2).attr('y', d => y1(d.v) - 2.2)
  .attr('width', 4.4).attr('height', 4.4)
  .attr('fill', '#ff0000');
// deseasonalised: black x (GERB-2) / open squares (GERB-1)
gPts.selectAll('.desX').data(solarPts.filter(d => d.kind === 'des' && d.era === 2)).enter()
  .append('path')
  .attr('d', d => `M${x1(d.t) - 2.2},${y1(d.v) - 2.2}l4.4,4.4M${x1(d.t) - 2.2},${y1(d.v) + 2.2}l4.4,-4.4`)
  .attr('stroke', '#000').attr('stroke-width', 1.3);
gPts.selectAll('.desSq').data(solarPts.filter(d => d.kind === 'des' && d.era === 1)).enter()
  .append('rect')
  .attr('x', d => x1(d.t) - 2.4).attr('y', d => y1(d.v) - 2.4)
  .attr('width', 4.8).attr('height', 4.8)
  .attr('fill', '#777').attr('stroke', '#000').attr('stroke-width', 1.3);

drawFrame(boxTop, x1, y1, solarTicks, FONT, 17, 18);

svg.append('text')
  .attr('x', (boxTop.left + boxTop.right) / 2 + 0.5).attr('y', 562)
  .attr('text-anchor', 'middle').style('font-size', FONT + 'px').text('Time');
svg.append('text')
  .attr('transform', 'translate(37,259) rotate(-90)')
  .attr('text-anchor', 'middle').style('font-size', '27px').text('Solar flux ratio GX / GL');
svg.append('text')
  .attr('x', x1(2005.9)).attr('y', y1(0.985))
  .attr('text-anchor', 'middle').style('font-size', FONT + 'px').text('GERB-2 / MSG-1');
svg.append('text')
  .attr('x', x1(2010.41)).attr('y', y1(0.985))
  .attr('text-anchor', 'middle').style('font-size', FONT + 'px').text('GERB-1 / MSG-2');

// top legend
svg.append('text').attr('x', 1018).attr('y', 55)
  .attr('text-anchor', 'end').style('font-size', '29px').text('GX/GL 1145 UTC');
svg.append('text').attr('x', 1018).attr('y', 82)
  .attr('text-anchor', 'end').style('font-size', '29px').text('(idem) deseason.');
svg.append('path').attr('d', 'M1076,45h4M1078,43v4').attr('stroke', '#ff0000').attr('stroke-width', 1.3);
svg.append('path').attr('d', 'M1076.5,70.5l3,3M1076.5,73.5l3,-3').attr('stroke', '#000').attr('stroke-width', 1.1);

// ---------- bottom panel ----------
drawRefs(boxBot, x2, y2, lwMeans, lwBands);

svg.append('clipPath').attr('id', 'clipBot').append('rect')
  .attr('x', boxBot.left).attr('y', boxBot.top)
  .attr('width', boxBot.right - boxBot.left).attr('height', boxBot.bottom - boxBot.top);

const line2 = d3.line().x(d => x2(d[0])).y(d => y2(d[1]));
const lwSeries = [
  {name: 'GX/GL 00 UTC', segs: lw00, color: '#ff0000', width: 1.4},
  {name: 'GX/GL 06 UTC', segs: lw06, color: '#00ee00', width: 1.5},
  {name: 'GX/GL 12 UTC', segs: lw12, color: '#000000', width: 1.7},
  {name: 'GX/GL 18 UTC', segs: lw18, color: '#0000ff', width: 1.5}
];
const gLines = svg.append('g').attr('clip-path', 'url(#clipBot)');
lwSeries.forEach(s => {
  gLines.append('g').selectAll('path').data(s.segs).enter().append('path')
    .attr('d', line2)
    .attr('fill', 'none')
    .attr('stroke', s.color)
    .attr('stroke-width', s.width)
    .attr('stroke-linejoin', 'round');
});

drawFrame(boxBot, x2, y2, lwTicks, 26, 16, 18);

svg.append('text')
  .attr('x', (boxBot.left + boxBot.right) / 2).attr('y', 1100)
  .attr('text-anchor', 'middle').style('font-size', '27px').text('Time');
svg.append('text')
  .attr('transform', 'translate(57,807) rotate(-90)')
  .attr('text-anchor', 'middle').style('font-size', '26px').text('LW flux ratio GX / GL');
svg.append('text')
  .attr('x', x2(2005.9)).attr('y', y2(0.965))
  .attr('text-anchor', 'middle').style('font-size', '26px').text('GERB-2 / MSG-1');
svg.append('text')
  .attr('x', x2(2010.39)).attr('y', y2(0.965))
  .attr('text-anchor', 'middle').style('font-size', '26px').text('GERB-1 / MSG-2');

// bottom legend
const legY = [602, 628, 654, 680];
lwSeries.forEach((s, i) => {
  svg.append('text').attr('x', 1026).attr('y', legY[i] + 10)
    .attr('text-anchor', 'end').style('font-size', '28px').text(s.name);
  svg.append('line').attr('x1', 1044).attr('x2', 1127)
    .attr('y1', legY[i]).attr('y2', legY[i])
    .attr('stroke', s.color).attr('stroke-width', 1.4);
});
</script>
</body>
</html>
